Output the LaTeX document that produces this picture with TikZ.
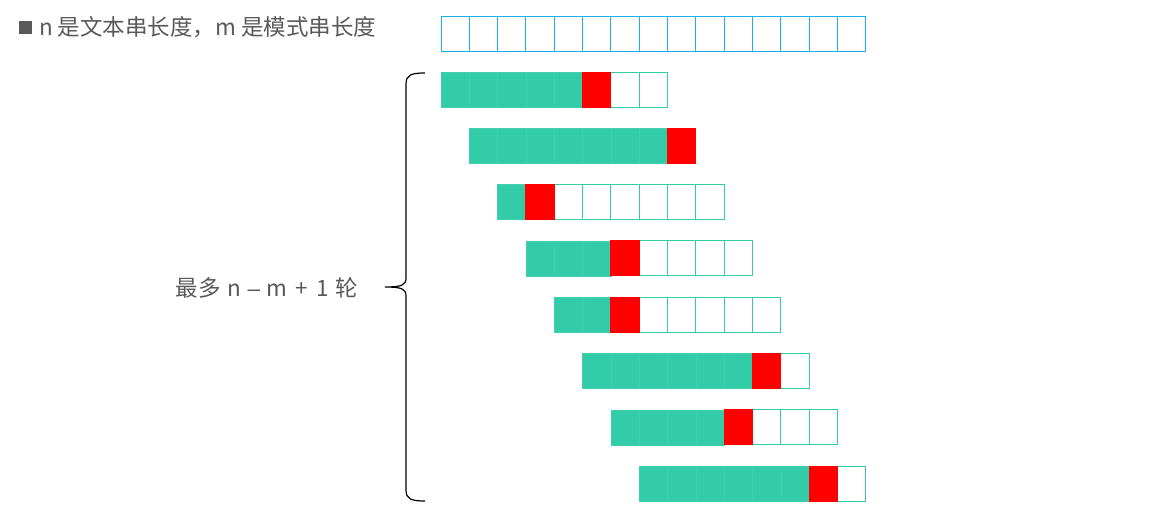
\documentclass[tikz,border=0pt]{standalone}
\usepackage{fontspec}
\setmainfont{Noto Sans CJK SC}
\newfontfamily\dashfont{Liberation Sans}
\definecolor{grn}{HTML}{33CCA8}
\definecolor{grnl}{HTML}{40D0AE}
\definecolor{blu}{HTML}{1AAFE8}
\definecolor{txt}{HTML}{595959}
\tikzset{
  basecell/.style={line width=1pt, minimum width=28.33pt, minimum height=35pt, inner sep=0pt, outer sep=0pt, anchor=north west},
  tcell/.style={basecell, draw=blu, fill=white},
  gcell/.style={basecell, draw=grnl, line width=0.6pt, fill=grn},
  rcell/.style={basecell, draw=red, fill=red},
  ecell/.style={basecell, draw=grn, fill=white},
  lbl/.style={text=txt, font=\fontsize{22.5}{26}\selectfont, inner sep=0pt}
}
\begin{document}
\begin{tikzpicture}[x=1pt,y=-1pt]
\useasboundingbox (0,0) rectangle (1162,522);
% title
\fill[txt] (19,21) rectangle (32,34);
\node[lbl, anchor=west] (title) at (39,27) {n 是文本串长度，m 是模式串长度};
% text row
\foreach \i in {0,...,14}
  \node[tcell] (t\i) at ({441+28.33*\i},16) {};
% pattern rows
\foreach \r/\rd in {1/5,2/7,3/1,4/3,5/2,6/6,7/4,8/6} {
  \foreach \j in {0,...,7} {
    \ifnum\j<\rd \def\st{gcell}\else\def\st{ecell}\fi
    \node[\st] (p\r-\j) at ({441+28.33*(\r-1+\j)},{72+56.3*(\r-1)}) {};
  }
  \node[rcell] (q\r) at ({441+28.33*(\r-1+\rd)},{72+56.3*(\r-1)}) {};
}
% brace
\coordinate (btop) at (425,73);
\coordinate (bbot) at (425,501);
\coordinate (btip) at (385,287);
\draw[line width=1.2pt, black]
  (btop) .. controls (411,73) and (406,75) .. (406,84) -- (406,278)
  .. controls (406,285) and (402,287) .. (btip)
  .. controls (402,287) and (406,289) .. (406,296) -- (406,490)
  .. controls (406,499) and (411,501) .. (bbot);
\node[lbl, anchor=east] (rounds) at (358,288) {最多\hspace{0.3em}n\hspace{0.3em}{\dashfont –}\hspace{0.3em}m\hspace{0.35em}+\hspace{0.35em}1\hspace{0.3em}轮};
\end{tikzpicture}
\end{document}
